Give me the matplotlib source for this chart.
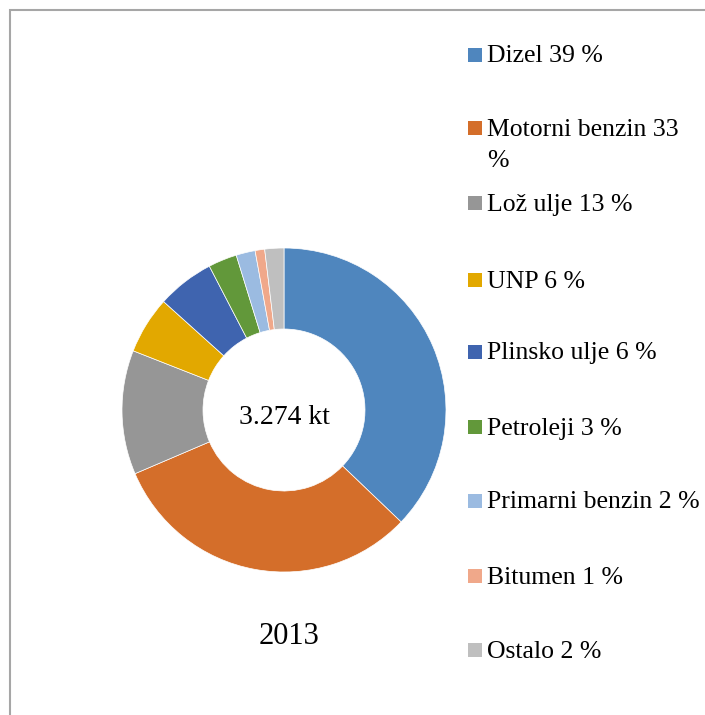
import matplotlib
matplotlib.use("Agg")
import matplotlib.pyplot as plt
from matplotlib.patches import Rectangle

categories = ["Dizel", "Motorni benzin", "Lož ulje", "UNP", "Plinsko ulje",
              "Petroleji", "Primarni benzin", "Bitumen", "Ostalo"]
shares = [39, 33, 13, 6, 6, 3, 2, 1, 2]
legend_labels = ["Dizel 39 %", "Motorni benzin 33\n%", "Lož ulje 13 %", "UNP 6 %",
                 "Plinsko ulje 6 %", "Petroleji 3 %", "Primarni benzin 2 %",
                 "Bitumen 1 %", "Ostalo 2 %"]
colors = ["#4F86BE", "#D46E2A", "#969696", "#E2A800", "#3F64AF",
          "#62983A", "#9BBBE1", "#F0A88A", "#BFBFBF"]
total_label = "3.274 kt"
year_label = "2013"

plt.rcParams['font.family'] = ['Liberation Serif', 'DejaVu Serif']

W, H = 705, 715
fig = plt.figure(figsize=(W / 100, H / 100), dpi=100)

# outer frame
fig.patches.append(Rectangle((10 / W, -0.1), 1.2, (H - 10) / H + 0.1,
                             transform=fig.transFigure, fill=False,
                             edgecolor="#A6A6A6", linewidth=1.5))

# donut
cx, cy, r = 284, 410, 162
ax = fig.add_axes([(cx - r) / W, (H - cy - r) / H, 2 * r / W, 2 * r / H])
ax.pie(shares, colors=colors, startangle=90, counterclock=False, radius=1.0,
       wedgeprops=dict(width=0.5, edgecolor="white", linewidth=0.5))
ax.set_xlim(-1, 1)
ax.set_ylim(-1, 1)
ax.set_aspect("equal")
ax.axis("off")

fig.text(cx / W, 1 - 418 / H, total_label, ha="center", va="center", fontsize=20, color="#000000")
fig.text(289 / W, 1 - 637 / H, year_label, ha="center", va="center", fontsize=22, color="#000000")

# legend (y = vertical centre of each entry's first line, in pixels from top)
ys = [55, 128, 203, 280, 352, 427, 501, 576, 650]
for lab, col, y in zip(legend_labels, colors, ys):
    fig.patches.append(Rectangle((468 / W, 1 - (y + 7) / H), 14 / W, 14 / H,
                                 transform=fig.transFigure, facecolor=col,
                                 edgecolor="none"))
    fig.text(487 / W, 1 - (y - 9.5) / H, lab, ha="left", va="top", fontsize=18.5,
             color="#000000", linespacing=1.55)

fig.savefig("out.png", dpi=100)
